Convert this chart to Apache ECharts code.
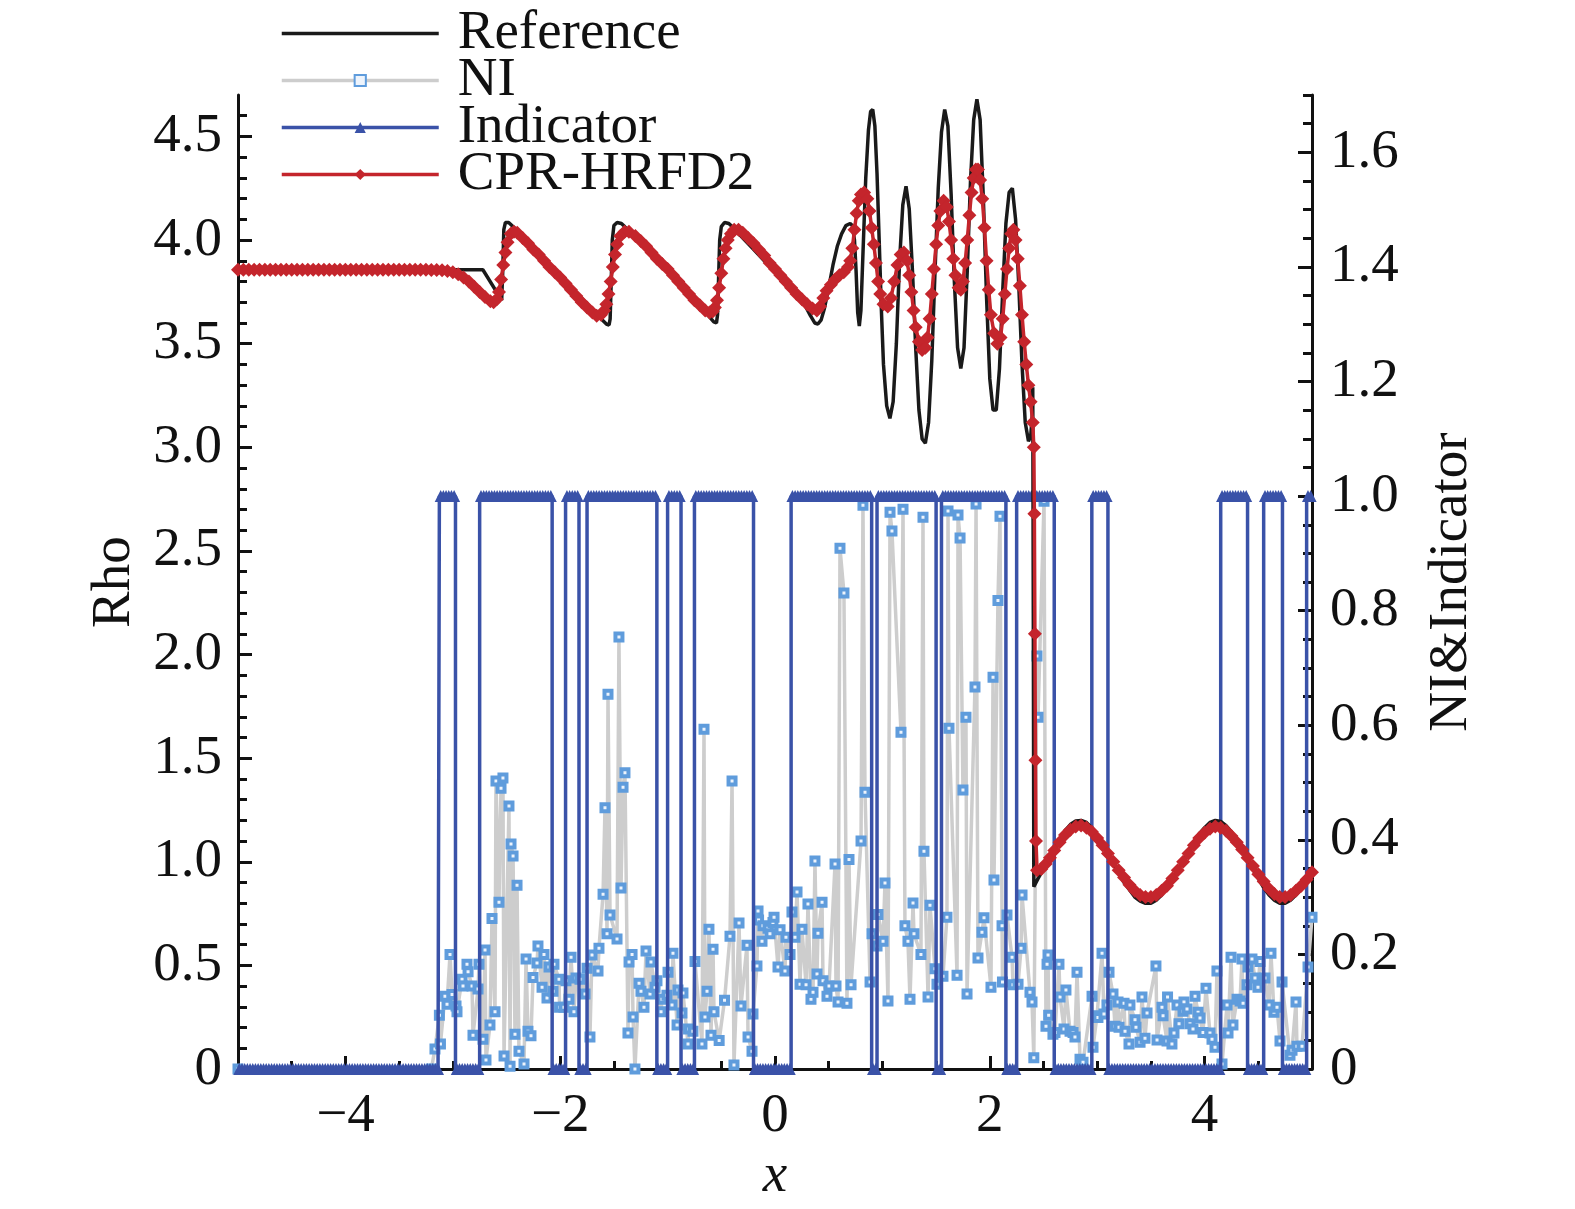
<!DOCTYPE html>
<html>
<head>
<meta charset="utf-8">
<script src="https://cdn.jsdelivr.net/npm/echarts@6/dist/echarts.min.js"></script>
<style>
html,body{margin:0;padding:0;background:#fff;}
#chart{width:1575px;height:1209px;}
</style>
</head>
<body>
<div id="chart"></div>
<script>
// ---------------- DATA ----------------
const seriesNames = ['Reference', 'NI', 'Indicator', 'CPR-HRFD2'];

const referenceData = [
[-5,3.857],[-2.72,3.857],[-2.545,3.71],[-2.535,3.85],[-2.525,4.05],[-2.51,4.085],[-2.48,4.085],[-2.45,4.07],[-2.40,4.045],[-2.30,3.995],[-2.20,3.94],[-2.10,3.885],[-2.00,3.83],[-1.90,3.775],[-1.80,3.72],[-1.70,3.665],[-1.62,3.62],[-1.57,3.595],[-1.545,3.59],[-1.535,3.62],[-1.525,3.80],[-1.515,4.00],[-1.50,4.07],[-1.47,4.085],[-1.43,4.08],[-1.40,4.065],[-1.30,4.01],[-1.20,3.955],[-1.10,3.90],[-1.00,3.845],[-0.90,3.79],[-0.80,3.735],[-0.70,3.68],[-0.62,3.635],[-0.57,3.605],[-0.545,3.60],[-0.535,3.64],[-0.525,3.82],[-0.515,4.00],[-0.50,4.065],[-0.47,4.085],[-0.43,4.08],[-0.40,4.065],[-0.30,4.01],[-0.20,3.955],[-0.10,3.90],[0.00,3.845],[0.10,3.79],[0.20,3.735],[0.28,3.685],[0.33,3.635],[0.37,3.60],[0.40,3.595],[0.43,3.615],[0.46,3.67],[0.50,3.77],[0.54,3.88],[0.58,3.97],[0.62,4.03],[0.66,4.07],[0.70,4.08],[0.72,4.07],[0.74,4.00],[0.755,3.85],[0.77,3.65],[0.785,3.585],[0.80,3.66],[0.82,3.95],[0.845,4.30],[0.87,4.53],[0.89,4.62],[0.91,4.63],[0.93,4.55],[0.95,4.32],[0.97,4.00],[0.99,3.67],[1.01,3.40],[1.04,3.20],[1.07,3.14],[1.10,3.22],[1.13,3.50],[1.16,3.90],[1.19,4.17],[1.22,4.26],[1.25,4.15],[1.28,3.85],[1.31,3.48],[1.34,3.18],[1.37,3.04],[1.40,3.02],[1.43,3.12],[1.46,3.42],[1.49,3.85],[1.52,4.25],[1.55,4.52],[1.58,4.63],[1.61,4.55],[1.64,4.22],[1.67,3.80],[1.70,3.48],[1.73,3.38],[1.76,3.48],[1.79,3.85],[1.82,4.28],[1.85,4.58],[1.88,4.68],[1.91,4.58],[1.94,4.20],[1.97,3.72],[2.00,3.33],[2.03,3.18],[2.06,3.18],[2.09,3.38],[2.12,3.75],[2.15,4.08],[2.18,4.23],[2.21,4.25],[2.24,4.10],[2.27,3.78],[2.30,3.40],[2.33,3.12],[2.36,3.03],[2.38,3.05],[2.395,3.15],[2.40,3.29],[2.405,2.2],[2.41,0.88],[2.45,0.92],[2.50,0.965],[2.55,1.015],[2.60,1.06],[2.65,1.11],[2.70,1.15],[2.75,1.18],[2.80,1.197],[2.85,1.20],[2.90,1.19],[2.95,1.165],[3.00,1.13],[3.05,1.09],[3.10,1.04],[3.15,0.99],[3.20,0.945],[3.25,0.90],[3.30,0.865],[3.35,0.83],[3.40,0.81],[3.45,0.80],[3.50,0.80],[3.55,0.815],[3.60,0.84],[3.65,0.875],[3.70,0.915],[3.75,0.96],[3.80,1.005],[3.85,1.05],[3.90,1.095],[3.95,1.135],[4.00,1.165],[4.05,1.19],[4.10,1.20],[4.15,1.195],[4.20,1.175],[4.25,1.145],[4.30,1.105],[4.35,1.06],[4.40,1.01],[4.45,0.965],[4.50,0.92],[4.55,0.875],[4.60,0.84],[4.65,0.815],[4.70,0.80],[4.75,0.80],[4.80,0.815],[4.85,0.84],[4.90,0.87],[4.95,0.905],[5.00,0.945]
];

const cprData = [
[-5.00,3.857],[-4.95,3.857],[-4.90,3.857],[-4.85,3.857],[-4.80,3.857],[-4.75,3.857],[-4.70,3.857],[-4.65,3.857],[-4.60,3.857],[-4.55,3.857],[-4.50,3.857],[-4.45,3.857],[-4.40,3.857],[-4.35,3.857],[-4.30,3.857],[-4.25,3.857],[-4.20,3.857],[-4.15,3.857],[-4.10,3.857],[-4.05,3.857],[-4.00,3.857],[-3.95,3.857],[-3.90,3.857],[-3.85,3.857],[-3.80,3.857],[-3.75,3.857],[-3.70,3.857],[-3.65,3.857],[-3.60,3.857],[-3.55,3.857],[-3.50,3.857],[-3.45,3.857],[-3.40,3.857],[-3.35,3.857],[-3.30,3.857],[-3.25,3.857],[-3.20,3.856],[-3.15,3.856],
[-3.10,3.855],[-3.05,3.851],[-3.00,3.845],[-2.95,3.835],[-2.90,3.82],[-2.85,3.80],[-2.80,3.775],[-2.75,3.75],[-2.70,3.725],[-2.65,3.705],[-2.62,3.70],[-2.59,3.715],[-2.57,3.75],[-2.55,3.81],[-2.53,3.88],[-2.51,3.94],[-2.49,3.99],[-2.46,4.03],[-2.43,4.04],[-2.40,4.035],[-2.35,4.01],[-2.30,3.985],[-2.25,3.955],[-2.20,3.93],[-2.15,3.90],[-2.10,3.87],[-2.05,3.845],[-2.00,3.82],[-1.95,3.79],[-1.90,3.76],[-1.85,3.73],[-1.80,3.70],[-1.75,3.675],[-1.70,3.65],[-1.66,3.635],[-1.62,3.64],[-1.59,3.66],[-1.57,3.69],[-1.55,3.74],[-1.53,3.80],[-1.51,3.87],[-1.49,3.93],[-1.47,3.98],[-1.44,4.02],[-1.40,4.04],[-1.36,4.04],[-1.30,4.02],[-1.25,3.995],[-1.20,3.97],[-1.15,3.94],[-1.10,3.91],[-1.05,3.885],[-1.00,3.86],[-0.95,3.83],[-0.90,3.80],[-0.85,3.77],[-0.80,3.74],[-0.75,3.71],[-0.70,3.685],[-0.65,3.66],[-0.61,3.65],[-0.58,3.655],[-0.56,3.675],[-0.54,3.71],[-0.52,3.77],[-0.50,3.84],[-0.48,3.91],[-0.46,3.96],[-0.44,4.00],[-0.41,4.03],[-0.38,4.05],[-0.34,4.05],[-0.30,4.035],[-0.25,4.01],[-0.20,3.985],[-0.15,3.955],[-0.10,3.925],[-0.05,3.89],[0.00,3.86],[0.05,3.83],[0.10,3.80],[0.15,3.77],[0.20,3.74],[0.25,3.715],[0.30,3.69],[0.35,3.67],[0.39,3.66],[0.42,3.68],[0.45,3.72],[0.48,3.755],[0.52,3.785],[0.56,3.81],[0.60,3.83],[0.64,3.845],[0.68,3.87],[0.70,3.90],[0.72,3.96],[0.74,4.05],[0.76,4.13],[0.78,4.19],[0.80,4.22],[0.83,4.23],[0.86,4.20],[0.88,4.14],[0.90,4.06],[0.92,3.98],[0.94,3.89],[0.96,3.80],[0.98,3.74],[1.01,3.69],[1.05,3.68],[1.08,3.72],[1.11,3.80],[1.14,3.88],[1.17,3.93],[1.20,3.94],[1.23,3.90],[1.25,3.83],[1.27,3.75],[1.29,3.66],[1.31,3.58],[1.34,3.51],[1.37,3.47],[1.40,3.48],[1.42,3.53],[1.44,3.62],[1.46,3.74],[1.48,3.86],[1.50,3.98],[1.52,4.07],[1.54,4.14],[1.57,4.19],[1.60,4.16],[1.62,4.09],[1.64,4.00],[1.66,3.91],[1.68,3.83],[1.71,3.77],[1.73,3.76],[1.75,3.80],[1.77,3.89],[1.79,4.00],[1.81,4.12],[1.83,4.23],[1.85,4.30],[1.87,4.34],[1.89,4.34],[1.91,4.29],[1.93,4.20],[1.95,4.06],[1.97,3.90],[1.99,3.76],[2.01,3.64],[2.04,3.55],[2.07,3.50],[2.10,3.53],[2.12,3.62],[2.14,3.74],[2.16,3.86],[2.18,3.96],[2.20,4.03],[2.22,4.05],[2.24,4.00],[2.26,3.91],[2.28,3.78],[2.30,3.64],[2.32,3.51],[2.34,3.40],[2.36,3.30],[2.38,3.22],[2.40,3.12],[2.41,3.0],[2.415,2.68],[2.42,2.10],[2.425,1.49],[2.43,1.10],[2.44,0.96],[2.48,0.965],[2.52,0.99],[2.56,1.02],[2.60,1.055],[2.65,1.095],[2.70,1.13],[2.75,1.155],[2.80,1.17],[2.85,1.175],[2.90,1.165],[2.95,1.145],[3.00,1.115],[3.05,1.08],[3.10,1.04],[3.15,1.0],[3.20,0.96],[3.25,0.925],[3.30,0.89],[3.35,0.86],[3.40,0.84],[3.45,0.83],[3.50,0.83],[3.55,0.84],[3.60,0.86],[3.65,0.885],[3.70,0.92],[3.75,0.96],[3.80,1.0],[3.85,1.04],[3.90,1.08],[3.95,1.115],[4.00,1.14],[4.05,1.16],[4.10,1.17],[4.15,1.165],[4.20,1.15],[4.25,1.125],[4.30,1.095],[4.35,1.06],[4.40,1.02],[4.45,0.98],[4.50,0.94],[4.55,0.905],[4.60,0.87],[4.65,0.845],[4.70,0.83],[4.75,0.83],[4.80,0.84],[4.85,0.86],[4.90,0.885],[4.95,0.915],[5.00,0.95]
];

const niData = [
[-5,0],[-3.20,0],[-3.166,0.035],[-3.125,0.094],[-3.115,0.044],[-3.073,0.127],[-3.054,0.113],[-3.026,0.20],[-3.007,0.13],[-2.970,0.11],[-2.961,0.10],[-2.914,0.157],[-2.905,0.145],[-2.868,0.183],[-2.858,0.17],[-2.821,0.145],[-2.812,0.059],[-2.765,0.14],[-2.756,0.183],[-2.719,0.052],[-2.700,0.208],[-2.691,0.016],[-2.654,0.077],[-2.635,0.263],[-2.607,0.10],[-2.598,0.503],[-2.570,0.291],[-2.551,0.49],[-2.533,0.508],[-2.523,0.023],[-2.477,0.459],[-2.467,0.005],[-2.458,0.393],[-2.439,0.372],[-2.421,0.061],[-2.402,0.321],[-2.384,0.031],[-2.337,0.009],[-2.318,0.192],[-2.300,0.066],[-2.272,0.058],[-2.253,0.16],[-2.216,0.185],[-2.207,0.215],[-2.169,0.143],[-2.151,0.20],[-2.123,0.124],[-2.104,0.178],[-2.067,0.136],[-2.058,0.183],[-2.011,0.157],[-2.006,0.108],[-1.965,0.108],[-1.946,0.154],[-1.918,0.122],[-1.899,0.195],[-1.872,0.10],[-1.853,0.159],[-1.816,0.157],[-1.769,0.131],[-1.750,0.176],[-1.723,0.056],[-1.704,0.199],[-1.648,0.171],[-1.639,0.211],[-1.601,0.305],[-1.583,0.456],[-1.564,0.236],[-1.555,0.654],[-1.536,0.269],[-1.471,0.227],[-1.453,0.754],[-1.434,0.316],[-1.415,0.492],[-1.397,0.517],[-1.369,0.063],[-1.359,0.187],[-1.331,0.20],[-1.322,0.091],[-1.304,0.0],[-1.266,0.15],[-1.248,0.136],[-1.220,0.108],[-1.201,0.206],[-1.164,0.131],[-1.155,0.187],[-1.117,0.143],[-1.099,0.154],[-1.061,0.10],[-1.052,0.122],[-1.006,0.129],[-0.996,0.169],[-0.959,0.112],[-0.950,0.202],[-0.912,0.077],[-0.903,0.138],[-0.866,0.098],[-0.857,0.133],[-0.810,0.044],[-0.805,0.07],[-0.764,0.066],[-0.745,0.188],[-0.680,0.044],[-0.661,0.593],[-0.652,0.091],[-0.633,0.136],[-0.615,0.244],[-0.596,0.059],[-0.577,0.209],[-0.568,0.10],[-0.52,0.05],[-0.47,0.12],[-0.419,0.232],[-0.400,0.503],[-0.382,0.007],[-0.335,0.255],[-0.317,0.11],[-0.261,0.216],[-0.251,0.056],[-0.214,0.031],[-0.205,0.096],[-0.168,0.18],[-0.158,0.276],[-0.153,0.26],[-0.121,0.223],[-0.112,0.25],[-0.065,0.246],[-0.047,0.236],[-0.019,0.256],[-0.009,0.265],[0.028,0.178],[0.047,0.243],[0.093,0.171],[0.102,0.23],[0.140,0.2],[0.158,0.274],[0.186,0.23],[0.205,0.309],[0.233,0.148],[0.251,0.244],[0.289,0.147],[0.307,0.288],[0.335,0.122],[0.354,0.134],[0.372,0.363],[0.391,0.166],[0.400,0.237],[0.438,0.291],[0.447,0.154],[0.484,0.127],[0.503,0.145],[0.559,0.358],[0.568,0.145],[0.587,0.117],[0.605,0.909],[0.642,0.831],[0.670,0.115],[0.689,0.366],[0.708,0.147],[0.801,0.398],[0.819,0.984],[0.838,0.483],[0.885,0.152],[0.903,0.236],[0.950,0.215],[0.959,0.27],[1.006,0.223],[1.024,0.325],[1.052,0.119],[1.071,0.972],[1.089,0.939],[1.173,0.588],[1.192,0.977],[1.210,0.25],[1.238,0.223],[1.257,0.122],[1.285,0.29],[1.294,0.236],[1.359,0.2],[1.378,0.963],[1.387,0.38],[1.425,0.126],[1.443,0.286],[1.490,0.175],[1.508,0.148],[1.564,0.162],[1.601,0.265],[1.611,0.974],[1.620,0.595],[1.695,0.164],[1.704,0.967],[1.723,0.927],[1.750,0.487],[1.778,0.614],[1.788,0.131],[1.862,0.667],[1.872,0.986],[1.890,0.194],[1.927,0.239],[1.946,0.264],[2.011,0.143],[2.030,0.684],[2.039,0.33],[2.076,0.818],[2.095,0.965],[2.114,0.25],[2.118,0.152],[2.160,0.269],[2.207,0.195],[2.216,0.147],[2.263,0.148],[2.291,0.211],[2.300,0.304],[2.374,0.134],[2.393,0.117],[2.41,0.02],[2.439,0.721],[2.449,0.614],[2.505,0.991],[2.523,0.075],[2.533,0.183],[2.542,0.199],[2.548,0.094],[2.588,0.061],[2.607,0.064],[2.644,0.183],[2.654,0.126],[2.691,0.07],[2.709,0.138],[2.747,0.066],[2.775,0.064],[2.793,0.056],[2.812,0.169],[2.840,0.017],[2.868,0.012],[2.952,0.127],[2.961,0.038],[2.998,0.093],[3.007,0.09],[3.045,0.202],[3.063,0.096],[3.091,0.112],[3.110,0.169],[3.147,0.131],[3.166,0.075],[3.194,0.117],[3.203,0.073],[3.250,0.115],[3.259,0.066],[3.296,0.044],[3.305,0.112],[3.352,0.086],[3.361,0.073],[3.399,0.047],[3.417,0.126],[3.445,0.054],[3.464,0.098],[3.547,0.18],[3.557,0.051],[3.603,0.108],[3.613,0.093],[3.650,0.049],[3.655,0.126],[3.696,0.044],[3.715,0.063],[3.743,0.112],[3.762,0.079],[3.799,0.101],[3.808,0.117],[3.836,0.105],[3.864,0.079],[3.892,0.07],[3.911,0.127],[3.939,0.099],[3.957,0.089],[3.985,0.064],[4.013,0.141],[4.050,0.063],[4.069,0.052],[4.097,0.038],[4.115,0.171],[4.162,0.009],[4.209,0.112],[4.218,0.063],[4.246,0.195],[4.264,0.077],[4.302,0.122],[4.330,0.119],[4.348,0.192],[4.358,0.115],[4.395,0.147],[4.404,0.178],[4.441,0.192],[4.469,0.159],[4.497,0.143],[4.516,0.188],[4.562,0.159],[4.600,0.112],[4.618,0.202],[4.646,0.099],[4.674,0.108],[4.702,0.049],[4.721,0.152],[4.795,0.024],[4.814,0.033],[4.851,0.117],[4.860,0.04],[4.907,0.04],[4.963,0.178],[5.0,0.265]
];

// x-intervals where the indicator equals 1
const indicatorOn = [[-3.12,-2.97],[-2.76,-2.07],[-1.95,-1.83],[-1.76,-1.10],[-1.01,-0.87],[-0.75,-0.21],[0.16,0.91],[0.94,1.51],[1.54,2.16],[2.24,2.61],[2.95,3.10],[4.16,4.41],[4.55,4.72],[4.96,5.0]];
// mesh on which the indicator is sampled
const meshStart = -5, meshEnd = 5, meshStep = 0.025;

const xMajorTicks = [-4, -2, 0, 2, 4];
const xMinorTicks = [-4.5,-3.5,-3,-2.5,-1.5,-1,-0.5,0.5,1,1.5,2.5,3,3.5,4.5];
const rhoTicks = [0,0.5,1,1.5,2,2.5,3,3.5,4,4.5];
const niTicks = [0,0.2,0.4,0.6,0.8,1.0,1.2,1.4,1.6];
const rhoMax = 4.7, niMax = 1.7;

// ---------------- BUILD ----------------
const indicatorData = [];
for (let i = 0; i < Math.round((meshEnd - meshStart) / meshStep); i++) {
  const x = +(meshStart + (i + 0.5) * meshStep).toFixed(4);
  const on = indicatorOn.some(r => x >= r[0] && x <= r[1]) ? 1 : 0;
  indicatorData.push([x, on]);
}
const rhoMinor = [];
for (let k = 1; k <= 46; k++) { if (k % 5 !== 0) rhoMinor.push(k / 10); }
const niMinor = [];
for (let k = 1; k <= 34; k++) { if (k % 4 !== 0) niMinor.push(Math.round(k * 5) / 100); }

const FONT = '"Liberation Serif","Times New Roman",serif';
const FS = 55;
const BLACK = '#111';
const fmtMinus = v => String(v).replace('-', '\u2212');

const chart = echarts.init(document.getElementById('chart'), null, {renderer: 'canvas'});
const axisLineStyle = {color: BLACK, width: 3};

chart.setOption({
  backgroundColor: '#ffffff',
  animation: false,
  grid: {left: 238, right: 263, top: 95, bottom: 139, containLabel: false},
  legend: {
    data: [
      {name: 'Reference', itemStyle: {opacity: 0}},
      {name: 'NI'}, {name: 'Indicator'}, {name: 'CPR-HRFD2'}
    ],
    orient: 'vertical',
    left: 280, top: 6, padding: 0,
    itemWidth: 157, itemHeight: 14, itemGap: -8,
    lineStyle: {width: 3.5},
    textStyle: {fontFamily: FONT, fontSize: FS, color: '#111', padding: [0,0,0,14]}
  },
  xAxis: [{
    type: 'value', min: -5, max: 5, position: 'bottom',
    axisLine: {show: true, onZero: false, lineStyle: axisLineStyle},
    axisTick: {show: true, inside: true, length: 13, customValues: xMajorTicks, lineStyle: axisLineStyle},
    axisLabel: {customValues: xMajorTicks, formatter: fmtMinus, fontFamily: FONT, fontSize: FS, color: '#111', margin: 20},
    splitLine: {show: false},
    name: 'x', nameLocation: 'middle', nameGap: 47,
    nameTextStyle: {fontFamily: FONT, fontSize: FS, fontStyle: 'italic', color: '#111'}
  }, {
    type: 'value', min: -5, max: 5, position: 'bottom',
    axisLine: {show: false, onZero: false},
    axisTick: {show: true, inside: true, length: 8, customValues: xMinorTicks, lineStyle: axisLineStyle},
    axisLabel: {show: false}, splitLine: {show: false}
  }],
  yAxis: [{
    type: 'value', min: 0, max: rhoMax, position: 'left',
    axisLine: {show: true, onZero: false, lineStyle: axisLineStyle},
    axisTick: {show: true, inside: true, length: 14, customValues: rhoTicks, lineStyle: axisLineStyle},
    axisLabel: {customValues: rhoTicks, formatter: v => v === 0 ? '0' : v.toFixed(1), fontFamily: FONT, fontSize: FS, color: '#111', margin: 16},
    splitLine: {show: false},
    name: 'Rho', nameLocation: 'middle', nameRotate: 90, nameGap: 92,
    nameTextStyle: {fontFamily: FONT, fontSize: FS, color: '#111'}
  }, {
    type: 'value', min: 0, max: rhoMax, position: 'left',
    axisLine: {show: false, onZero: false},
    axisTick: {show: true, inside: true, length: 9, customValues: rhoMinor, lineStyle: axisLineStyle},
    axisLabel: {show: false}, splitLine: {show: false}
  }, {
    type: 'value', min: 0, max: niMax, position: 'right',
    axisLine: {show: true, onZero: false, lineStyle: axisLineStyle},
    axisTick: {show: true, inside: true, length: 14, customValues: niTicks, lineStyle: axisLineStyle},
    axisLabel: {customValues: niTicks, formatter: v => v === 0 ? '0' : v.toFixed(1), fontFamily: FONT, fontSize: FS, color: '#111', margin: 18},
    splitLine: {show: false},
    name: 'NI&Indicator', nameLocation: 'middle', nameRotate: 90, nameGap: 112,
    nameTextStyle: {fontFamily: FONT, fontSize: FS, color: '#111'}
  }, {
    type: 'value', min: 0, max: niMax, position: 'right',
    axisLine: {show: false, onZero: false},
    axisTick: {show: true, inside: true, length: 9, customValues: niMinor, lineStyle: axisLineStyle},
    axisLabel: {show: false}, splitLine: {show: false}
  }],
  series: [{
    name: 'Reference', type: 'line', xAxisIndex: 0, yAxisIndex: 0,
    data: referenceData, showSymbol: false, symbol: 'none', z: 4,
    lineStyle: {color: '#1a1a1a', width: 3.5}, itemStyle: {color: '#1a1a1a'}
  }, {
    name: 'NI', type: 'line', xAxisIndex: 0, yAxisIndex: 2,
    data: niData.slice().sort((a, b) => a[0] - b[0]), z: 2,
    symbol: 'rect', symbolSize: 7,
    lineStyle: {color: '#cdcdcd', width: 3.5},
    itemStyle: {color: '#eef4fc', borderColor: '#5f9cdc', borderWidth: 4}
  }, {
    name: 'Indicator', type: 'line', xAxisIndex: 0, yAxisIndex: 2,
    data: indicatorData, step: 'middle', z: 3,
    symbol: 'triangle', symbolSize: 12,
    lineStyle: {color: '#3a52a8', width: 3.5},
    itemStyle: {color: '#3a52a8'}
  }, {
    name: 'CPR-HRFD2', type: 'line', xAxisIndex: 0, yAxisIndex: 0,
    data: cprData, z: 5,
    symbol: 'diamond', symbolSize: 14,
    lineStyle: {color: '#c4252c', width: 3.5},
    itemStyle: {color: '#c4252c'}
  }]
});
</script>
</body>
</html>
